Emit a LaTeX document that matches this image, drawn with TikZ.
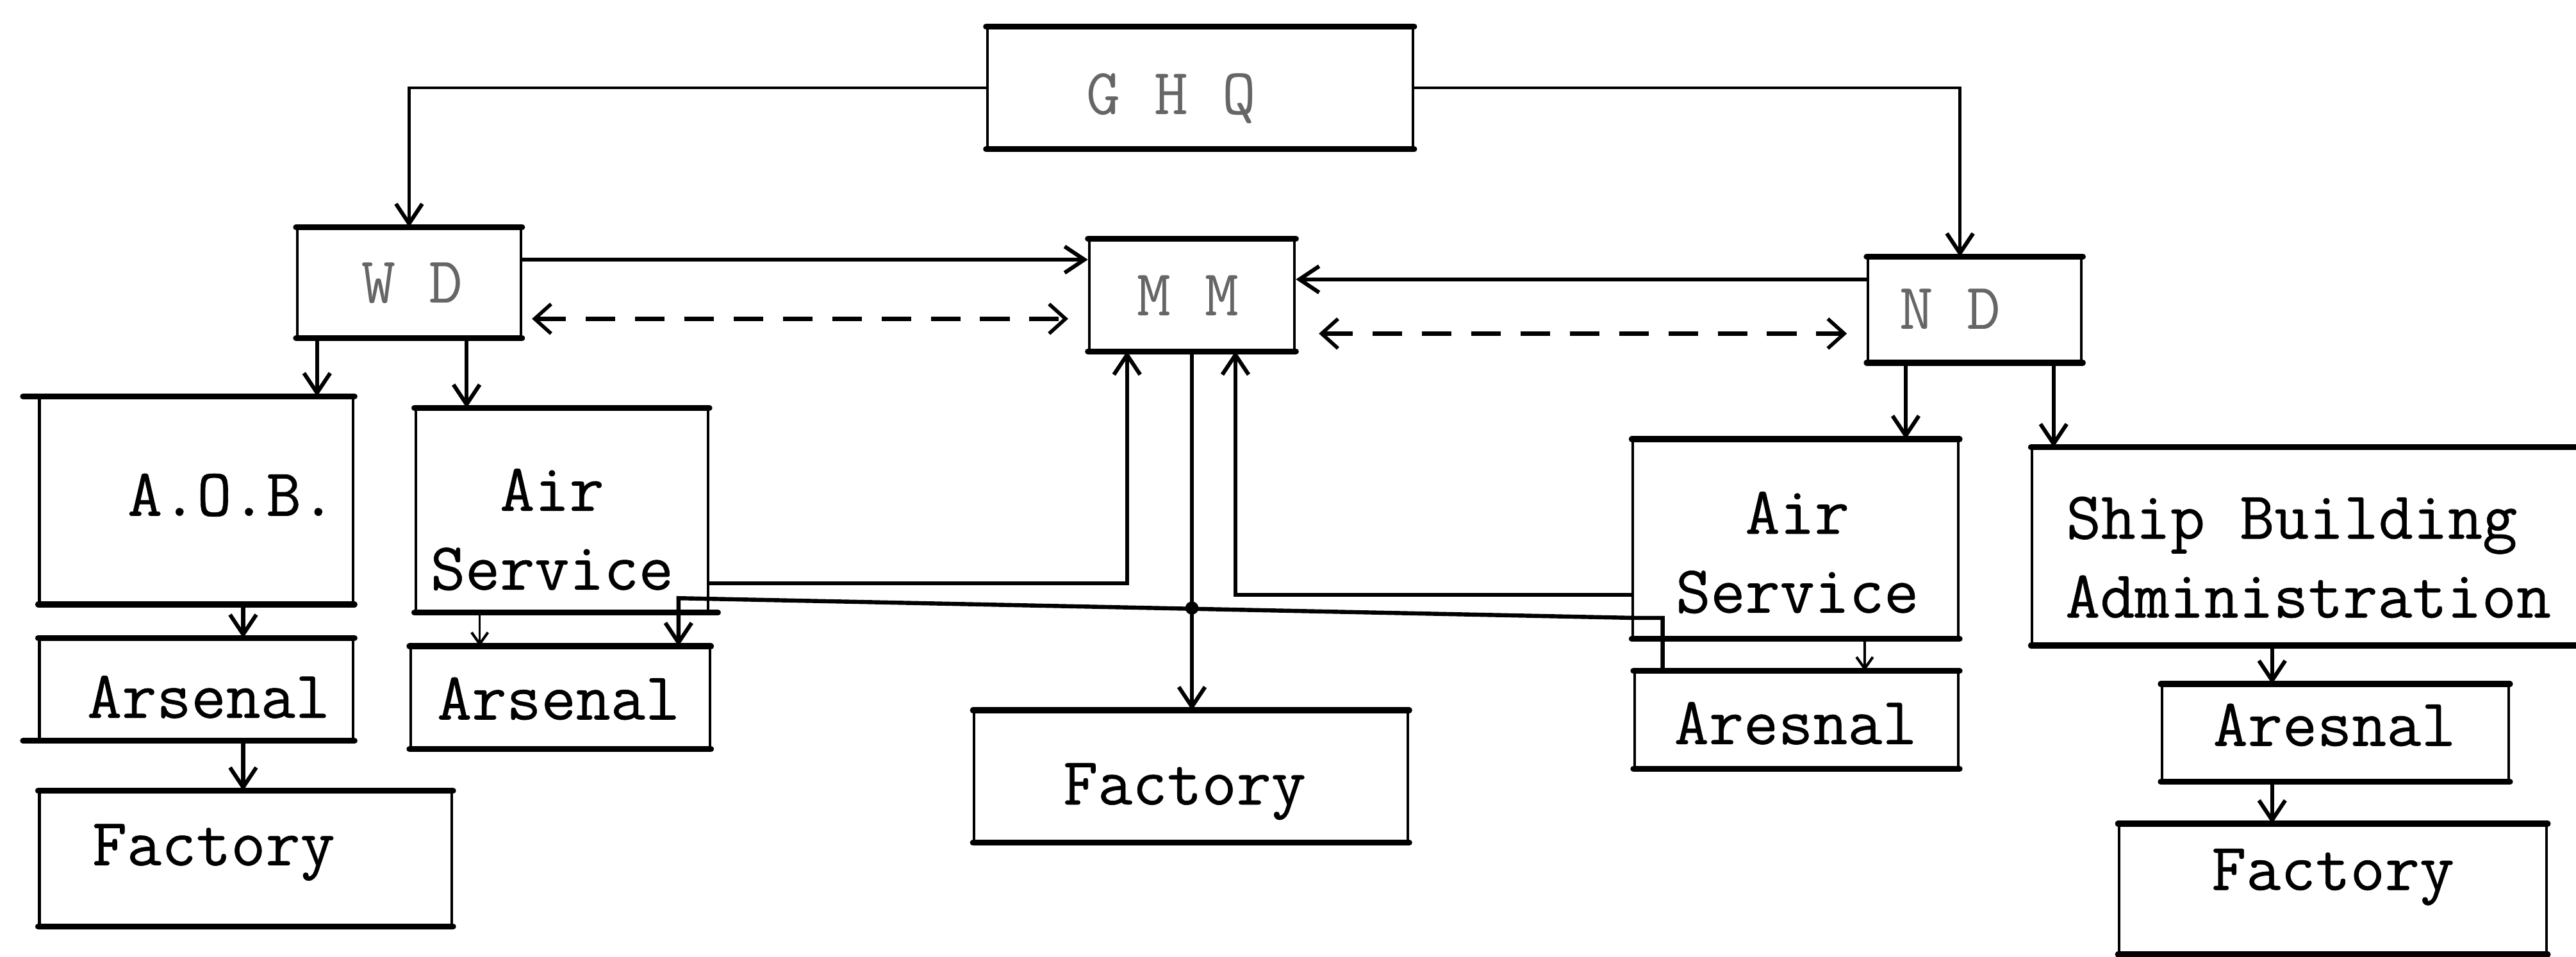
\documentclass[tikz,border=0pt]{standalone}
\usepackage{fontspec}
\newfontfamily\twfont{Latin Modern Mono}[FakeBold=0.6]
\newfontfamily\twlite{Latin Modern Mono}
\usetikzlibrary{arrows.meta,calc}
\tikzset{
  box/.style={draw, line width=0.8pt, inner sep=0pt},
  lbl/.style={inner sep=0pt, align=center, text depth=0pt,
    font=\twfont\fontsize{20.5}{24}\selectfont},
  lite/.style={text=black!60, font=\twlite\fontsize{20}{24}\selectfont},
  thk/.style={line width=1.8pt, line cap=round},
  con/.style={line width=1.25pt},
  arr/.style={con, -{Straight Barb[length=6pt,width=8pt,line width=1.2pt]}},
  thinarr/.style={line width=0.9pt, -{Straight Barb[length=6pt,width=8pt,line width=1.2pt]}},
  smallarr/.style={line width=0.7pt, -{Straight Barb[length=3.5pt,width=5pt,line width=0.8pt]}},
  darr/.style={line width=1.3pt, dash pattern=on 9pt off 6pt,
    {Straight Barb[length=5pt,width=9pt,line width=1.1pt]}-{Straight Barb[length=5pt,width=9pt,line width=1.1pt]}},
}
% #1 name, #2 x1, #3 y1, #4 x2, #5 y2, #6 text options, #7 text, #8 text x, #9 text y
\newcommand\mkbox[9]{%
  \node[box, minimum width={(#4-#2)*0.5pt}, minimum height={(#5-#3)*0.5pt}]
    (#1) at ({(#2+#4)/2},{(#3+#5)/2}) {};
  \node[lbl,#6] (#1-t) at (#8,#9) {#7};}
\begin{document}
\begin{tikzpicture}[x=0.5pt,y=-0.5pt]
\useasboundingbox (0,0) rectangle (1568,582);
\clip (0,0) rectangle (1568,582);
\fill[white] (0,0) rectangle (1568,582);

% boxes
\mkbox{ghq}{601}{17}{860}{90}{lite}{G H Q}{713}{57}
\mkbox{wd}{181}{139}{317}{205}{lite}{W D}{251}{172}
\mkbox{mm}{663}{146}{788}{213}{lite}{M M}{723}{180}
\mkbox{nd}{1137}{157}{1267}{220}{lite}{N D}{1187}{188}
\mkbox{aob}{24}{242}{215}{367}{}{A.O.B.}{141}{301}
\mkbox{asL}{253}{249}{431}{372}{}{Air\\Service}{336}{322}
\mkbox{arL}{24}{389}{215}{450}{}{Arsenal}{127}{424}
\mkbox{arL2}{250}{394}{432}{455}{}{Arsenal}{340}{425}
\mkbox{facL}{24}{482}{275}{563}{}{Factory}{130}{514}
\mkbox{facC}{593}{433}{857}{512}{}{Factory}{721}{477}
\mkbox{asR}{994}{268}{1192}{388}{}{Air\\Service}{1094}{336}
\mkbox{arR}{995}{409}{1192}{467}{}{Aresnal}{1093}{440}
\mkbox{sba}{1237}{273}{1590}{392}{}{\hspace*{-10pt}Ship Building\\Administration}{1405}{339}
\mkbox{arR2}{1316}{417}{1527}{475}{}{Aresnal}{1421}{441}
\mkbox{facR}{1290}{502}{1550}{580}{}{Factory}{1420}{529}

% heavier typed horizontal edges
\foreach \n in {ghq,wd,mm,nd,aob,asL,arL,arL2,facL,facC,asR,arR,sba,arR2,facR}
  \draw[thk] (\n.north west) -- (\n.north east) (\n.south west) -- (\n.south east);
\draw[thk] (14,0 |- aob.north) -- (aob.north west);
\draw[thk] (14,0 |- arL.south) -- (arL.south west);
\draw[thk] (asL.south east) -- (437,0 |- asL.south);

% GHQ to departments
\draw[thinarr] (ghq.west) -| (249,0 |- wd.north);
\draw[thinarr] (ghq.east) -| (1193,0 |- nd.north);

% departments to MM
\draw[arr] (wd.east |- 0,158) -- (mm.west |- 0,158);
\draw[arr] (nd.west |- 0,170) -- (mm.east |- 0,170);
\draw[darr, shorten <=3pt, shorten >=6pt] (wd.east |- 0,194) -- (mm.west |- 0,194);
\draw[darr, shorten <=7pt, shorten >=6pt] (mm.east |- 0,203) -- (nd.west |- 0,203);

% WD subordinates
\draw[arr] (193,0 |- wd.south) -- (193,0 |- aob.north);
\draw[arr] (284,0 |- wd.south) -- (284,0 |- asL.north);
\draw[arr] (148,0 |- aob.south) -- (148,0 |- arL.north);
\draw[arr] (148,0 |- arL.south) -- (148,0 |- facL.north);
\draw[smallarr] (292,0 |- asL.south) -- (292,0 |- arL2.north);

% ND subordinates
\draw[arr] (1160,0 |- nd.south) -- (1160,0 |- asR.north);
\draw[arr] (1250,0 |- nd.south) -- (1250,0 |- sba.north);
\draw[smallarr] (1135,0 |- asR.south) -- (1135,0 |- arR.north);
\draw[arr] (1383,0 |- sba.south) -- (1383,0 |- arR2.north);
\draw[arr] (1383,0 |- arR2.south) -- (1383,0 |- facR.north);

% Air services to MM
\draw[arr] (asL.east |- 0,355) -| (686,0 |- mm.south);
\draw[arr] (asR.west |- 0,362) -| (752,0 |- mm.south);

% MM to factory
\draw[arr] (mm.south) -- (mm.south |- facC.north);

% arsenals link
\coordinate (jn) at (725.5,370);
\draw[arr] (1012,0 |- arR.north) -- (1012,376) -- (994,376) -- (413,364) -- (413,0 |- arL2.north);
\fill (jn) circle (2pt);
\end{tikzpicture}
\end{document}
